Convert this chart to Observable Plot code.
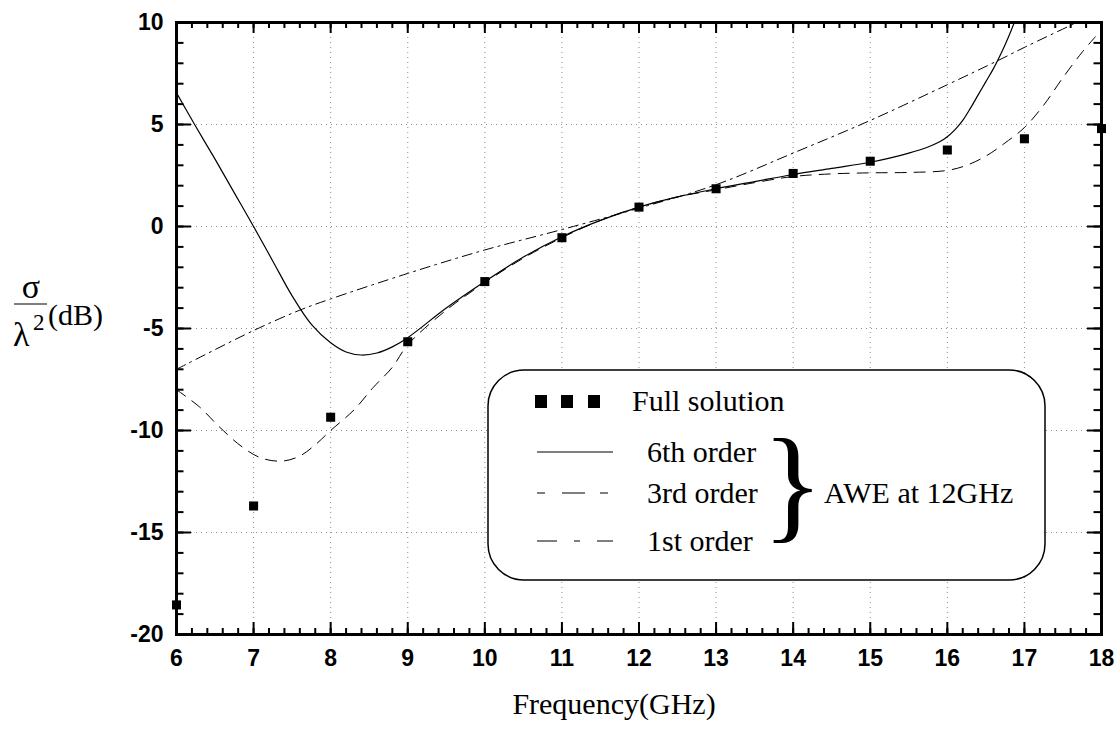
<!DOCTYPE html>
<html>
<head>
<meta charset="utf-8">
<script src="https://cdn.jsdelivr.net/npm/d3@7"></script>
<script src="https://cdn.jsdelivr.net/npm/@observablehq/plot@0.6"></script>
<style>
  html, body { margin: 0; padding: 0; background: #fff; }
  #chart { width: 1120px; height: 730px; }
</style>
</head>
<body>
<div id="chart"></div>
<script>
// ---- Data ----
const fullFreq  = [6, 7, 8, 9, 10, 11, 12, 13, 14, 15, 16, 17, 18];
const fullSigma = [-18.55, -13.7, -9.35, -5.65, -2.7, -0.55, 0.95, 1.85, 2.6, 3.2, 3.75, 4.3, 4.8];

const awe6Freq  = [6, 6.25, 6.5, 6.75, 7, 7.25, 7.5, 7.75, 8, 8.2, 8.4, 8.6, 8.8, 9, 9.5, 10, 10.5, 11, 11.5, 12, 12.5, 13, 13.5, 14, 14.5, 15, 15.25, 15.5, 15.75, 15.9, 16, 16.1, 16.2, 16.3, 16.4, 16.5, 16.6, 16.7, 16.8, 16.9, 17];
const awe6Sigma = [6.55, 4.9, 3.3, 1.65, 0.0, -1.7, -3.4, -4.8, -5.7, -6.15, -6.3, -6.2, -5.9, -5.45, -4.0, -2.7, -1.5, -0.5, 0.3, 0.95, 1.45, 1.85, 2.2, 2.55, 2.85, 3.15, 3.35, 3.6, 3.9, 4.15, 4.4, 4.75, 5.2, 5.8, 6.45, 7.1, 7.75, 8.5, 9.35, 10.3, 11.3];

const awe3Freq  = [6, 6.3, 6.55, 6.85, 7.1, 7.37, 7.6, 7.8, 8, 8.3, 8.55, 8.8, 9, 9.5, 10, 10.5, 11, 11.5, 12, 12.5, 13, 13.5, 14, 14.5, 15, 15.5, 16, 16.25, 16.5, 16.75, 17, 17.25, 17.5, 17.75, 17.92];
const awe3Sigma = [-8.0, -8.85, -9.8, -10.8, -11.35, -11.5, -11.25, -10.7, -10.0, -9.0, -7.9, -6.9, -5.8, -4.1, -2.75, -1.55, -0.55, 0.3, 0.95, 1.45, 1.8, 2.15, 2.45, 2.58, 2.63, 2.65, 2.75, 3.0, 3.45, 4.1, 4.85, 5.95, 7.3, 8.55, 9.3];

const awe1Freq  = [6, 7, 7.6, 8, 9, 10, 11, 12, 13, 14, 15, 16, 16.66, 17, 17.68, 18];
const awe1Sigma = [-7.0, -5.1, -4.1, -3.55, -2.3, -1.15, -0.15, 0.9, 2.05, 3.6, 5.2, 6.95, 8.14, 8.78, 10.0, 10.55];

const xTickLabels = [6, 7, 8, 9, 10, 11, 12, 13, 14, 15, 16, 17, 18];
const yTickLabels = [-20, -15, -10, -5, 0, 5, 10];
const xGrid = [7, 8, 9, 10, 11, 12, 13, 14, 15, 16, 17];
const yGrid = [-15, -10, -5, 0, 5];
const xMinor = d3.range(6, 18.001, 0.2).map(v => +v.toFixed(1));
const yMinor = d3.range(-20, 10.001, 1);

const legendItems = ["Full solution", "6th order", "3rd order", "1st order"];
const braceLabel = "AWE at 12GHz";
const xLabel = "Frequency(GHz)";

// ---- Layout ----
const W = 1120, H = 730;
const mL = 176, mR = 19, mT = 22, mB = 96;
const FW = W - mL - mR, FH = H - mT - mB;

const toRows = (xs, ys) => xs.map((x, i) => ({x, y: ys[i]}));
const full = toRows(fullFreq, fullSigma);
const a6 = toRows(awe6Freq, awe6Sigma);
const a3 = toRows(awe3Freq, awe3Sigma);
const a1 = toRows(awe1Freq, awe1Sigma);

const sans = "'Liberation Sans', Arial, sans-serif";
const serif = "'Liberation Serif', 'Times New Roman', serif";

const plot = Plot.plot({
  width: W, height: H,
  marginLeft: mL, marginRight: mR, marginTop: mT, marginBottom: mB,
  x: {domain: [6, 18], ticks: []},
  y: {domain: [-20, 10], ticks: []},
  style: {background: "#fff", overflow: "visible"},
  marks: [
    Plot.gridX(xGrid, {stroke: "#8c8c8c", strokeOpacity: 1, strokeWidth: 1, strokeDasharray: "1,4"}),
    Plot.gridY(yGrid, {stroke: "#8c8c8c", strokeOpacity: 1, strokeWidth: 1, strokeDasharray: "1,4"}),
    // ticks (inward) on all four sides
    Plot.ruleX(xMinor, {x: d => d, insetTop: FH - 6, stroke: "#000", strokeWidth: 2}),
    Plot.ruleX(xTickLabels, {x: d => d, insetTop: FH - 12, stroke: "#000", strokeWidth: 2}),
    Plot.ruleX(xMinor, {x: d => d, insetBottom: FH - 6, stroke: "#000", strokeWidth: 2}),
    Plot.ruleX(xTickLabels, {x: d => d, insetBottom: FH - 11, stroke: "#000", strokeWidth: 2}),
    Plot.ruleY(yMinor, {y: d => d, insetRight: FW - 7.5, stroke: "#000", strokeWidth: 2}),
    Plot.ruleY(yTickLabels, {y: d => d, insetRight: FW - 15, stroke: "#000", strokeWidth: 2}),
    Plot.ruleY(yMinor, {y: d => d, insetLeft: FW - 7.5, stroke: "#000", strokeWidth: 2}),
    Plot.ruleY(yTickLabels, {y: d => d, insetLeft: FW - 14, stroke: "#000", strokeWidth: 2}),
    // curves
    Plot.line(a1, {x: "x", y: "y", curve: "catmull-rom", stroke: "#000", strokeWidth: 1, strokeDasharray: "10,5,2,5", clip: true}),
    Plot.line(a3, {x: "x", y: "y", curve: "catmull-rom", stroke: "#000", strokeWidth: 1, strokeDasharray: "11,8", clip: true}),
    Plot.line(a6, {x: "x", y: "y", curve: "catmull-rom", stroke: "#000", strokeWidth: 1.2, clip: true}),
    Plot.frame({stroke: "#000", strokeWidth: 3}),
    Plot.dot(full, {x: "x", y: "y", symbol: "square", r: 5.1, fill: "#000", stroke: "none"}),
    // tick labels
    Plot.axisX(xTickLabels, {anchor: "bottom", tickSize: 0, tickPadding: 15, label: null, tickFormat: d => String(d), fontSize: 23, fontWeight: "bold", fontFamily: sans, fill: "#000"}),
    Plot.axisY(yTickLabels, {anchor: "left", tickSize: 0, tickPadding: 13, label: null, tickFormat: d => String(d), fontSize: 23, fontWeight: "bold", fontFamily: sans, fill: "#000"})
  ]
});
document.getElementById("chart").appendChild(plot);

// ---- Annotations (axis titles and legend) ----
const svg = d3.select(plot);
const g = svg.append("g").attr("fill", "#000").attr("font-family", serif).attr("text-anchor", "start");

// x-axis title
g.append("text").attr("x", 614).attr("y", 714).attr("text-anchor", "middle")
  .attr("font-size", 30).text(xLabel);

// y-axis title: sigma / lambda^2 (dB)
g.append("text").attr("x", 31).attr("y", 298).attr("text-anchor", "middle").attr("font-size", 34).text("σ");
g.append("line").attr("x1", 14).attr("x2", 47).attr("y1", 304).attr("y2", 304).attr("stroke", "#000").attr("stroke-width", 1.2);
g.append("text").attr("x", 13).attr("y", 346).attr("text-anchor", "start").attr("font-size", 34).text("λ");
g.append("text").attr("x", 33).attr("y", 330).attr("text-anchor", "start").attr("font-size", 23).text("2");
g.append("text").attr("x", 48).attr("y", 325).attr("text-anchor", "start").attr("font-size", 30).text("(dB)");

// legend box
const lg = g.append("g");
lg.append("rect").attr("x", 488).attr("y", 370).attr("width", 557).attr("height", 210)
  .attr("rx", 36).attr("ry", 36).attr("fill", "#fff").attr("stroke", "#000").attr("stroke-width", 1.5);
[541, 567, 594].forEach(cx => {
  lg.append("rect").attr("x", cx - 6).attr("y", 395).attr("width", 12).attr("height", 13).attr("fill", "#000");
});
lg.append("text").attr("x", 632).attr("y", 411).attr("text-anchor", "start").attr("font-size", 30).text(legendItems[0]);
const rows = [
  {label: legendItems[1], y: 452, dash: null},
  {label: legendItems[2], y: 493, dash: "8,17,23,15"},
  {label: legendItems[3], y: 541, dash: "20,17,6,17"}
];
rows.forEach(r => {
  const ln = lg.append("line").attr("x1", 537).attr("x2", 613).attr("y1", r.y).attr("y2", r.y)
    .attr("stroke", "#000").attr("stroke-width", 1.2);
  if (r.dash) ln.attr("stroke-dasharray", r.dash);
  lg.append("text").attr("x", 647).attr("y", r.y + 10).attr("text-anchor", "start").attr("font-size", 30).text(r.label);
});
lg.append("text").attr("x", 762).attr("y", 526).attr("text-anchor", "start").attr("font-size", 128).text("}");
lg.append("text").attr("x", 824).attr("y", 503).attr("text-anchor", "start").attr("font-size", 30).text(braceLabel);
</script>
</body>
</html>
